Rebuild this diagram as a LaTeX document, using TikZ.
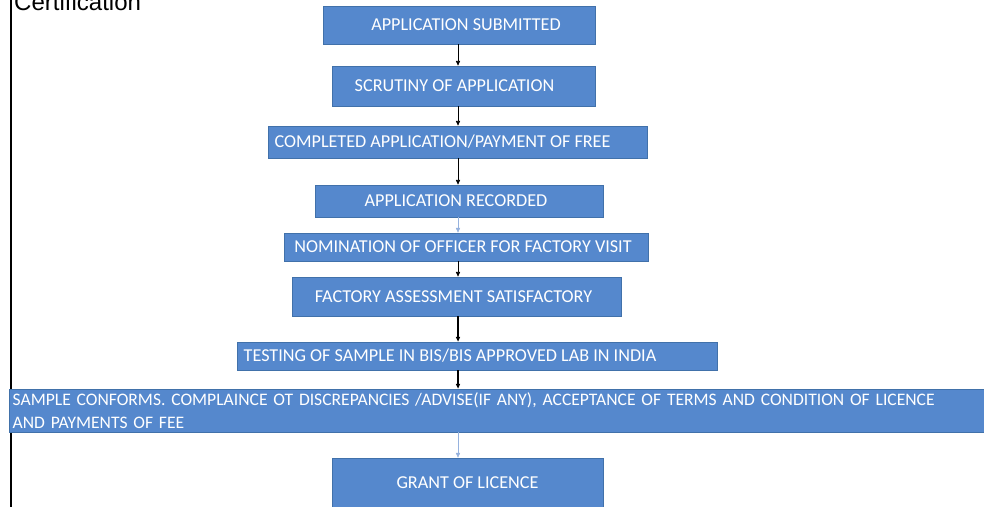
\documentclass[tikz,border=0pt]{standalone}
\usepackage{fontspec}
\setmainfont{Carlito}
\newfontfamily\arialfont{Liberation Sans}
\usetikzlibrary{arrows.meta}
\definecolor{boxblue}{RGB}{85,136,205}
\definecolor{boxline}{RGB}{65,113,170}
\definecolor{paleblue}{RGB}{150,178,222}

\begin{document}
\begin{tikzpicture}[x=0.03cm, y=-0.03cm, every node/.style={inner sep=0pt}]
  \tikzset{box/.style={rectangle, draw=boxline, fill=boxblue, line width=0.6pt}}
  \tikzset{lbl/.style={text=white, font=\fontsize{15.5}{18}\selectfont}}
  \path[use as bounding box, clip] (0,0) rectangle (984,507);
  \fill[white] (0,0) rectangle (984,507);

  % frame and title
  \coordinate (top) at (11,0);
  \coordinate (bottom) at (11,507);
  \draw[line width=1pt] (top) -- (bottom);
  \node[anchor=base west, font=\arialfont\fontsize{20.5}{24}\selectfont] (title) at (14,11) {Certification};

  % steps
  \node[box, minimum width=8.16cm, minimum height=1.14cm, label={[lbl, xshift=0.21cm]center:APPLICATION SUBMITTED}] (b1) at (459,25) {};
  \node[box, minimum width=7.89cm, minimum height=1.2cm, label={[lbl, xshift=-0.27cm]center:SCRUTINY OF APPLICATION}] (b2) at (463.5,86) {};
  \node[box, minimum width=11.37cm, minimum height=0.96cm, label={[lbl, xshift=-0.45cm]center:COMPLETED APPLICATION/PAYMENT OF FREE}] (b3) at (457.5,142) {};
  \node[box, minimum width=8.64cm, minimum height=0.96cm, label={[lbl, xshift=-0.09cm]center:APPLICATION RECORDED}] (b4) at (459,201) {};
  \node[box, minimum width=10.92cm, minimum height=0.84cm, label={[lbl, xshift=-0.09cm]center:NOMINATION OF OFFICER FOR FACTORY VISIT}] (b5) at (466,247) {};
  \node[box, minimum width=9.87cm, minimum height=1.17cm, label={[lbl, xshift=-0.09cm]center:FACTORY ASSESSMENT SATISFACTORY}] (b6) at (456.5,296.5) {};
  \node[box, minimum width=14.4cm, minimum height=0.84cm, label={[lbl, xshift=-0.81cm]center:TESTING OF SAMPLE IN BIS/BIS APPROVED LAB IN INDIA}] (b7) at (477,356) {};
  \node[box, lbl, font=\fontsize{15}{20}\selectfont, minimum height=1.29cm, text width=29.6cm, align=left, inner xsep=0.09cm] (b8) at (506,410.5)
    {SAMPLE CONFORMS. COMPLAINCE OT DISCREPANCIES /ADVISE(IF ANY), ACCEPTANCE OF TERMS AND CONDITION OF LICENCE\\AND PAYMENTS OF FEE};
  \node[box, minimum width=8.13cm, minimum height=1.71cm, label={[lbl, yshift=0.12cm]center:GRANT OF LICENCE}] (b9) at (467.5,486.5) {};

  % connectors
  \coordinate (spine) at (458,0);
  \tikzset{flow/.style={-{Triangle[length=4pt,width=3.5pt]}, line width=0.6pt}};
  \tikzset{faint/.style={flow, draw=paleblue, line width=0.4pt}};
  \draw[flow] (b1.south -| spine) -- (b2.north -| spine);
  \draw[flow] (b2.south -| spine) -- (b3.north -| spine);
  \draw[flow] (b3.south -| spine) -- (b4.north -| spine);
  \draw[faint] (b4.south -| spine) -- (b5.north -| spine);
  \draw[flow] (b5.south -| spine) -- (b6.north -| spine);
  \draw[flow, line width=1pt] (b6.south -| spine) -- (b7.north -| spine);
  \draw[flow, line width=1pt] (b7.south -| spine) -- (b8.north -| spine);
  \draw[faint] (b8.south -| spine) -- (b9.north -| spine);
\end{tikzpicture}
\end{document}
